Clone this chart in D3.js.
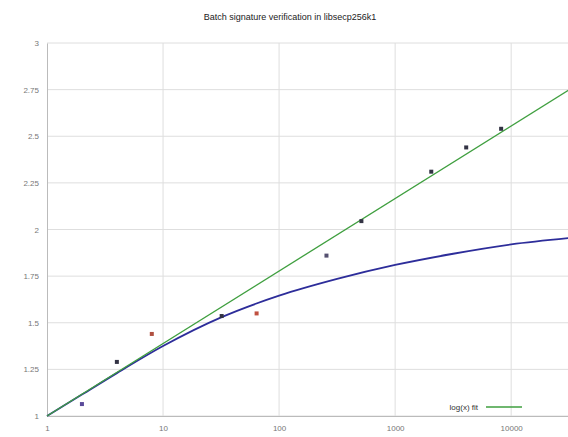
<!DOCTYPE html>
<html>
<head>
<meta charset="utf-8">
<script src="https://cdn.jsdelivr.net/npm/d3@7"></script>
<style>
  body { margin: 0; background: #fff; }
  text { font-family: "Liberation Sans", "DejaVu Sans", sans-serif; }
</style>
</head>
<body>
<svg id="chart" width="568" height="437"></svg>
<script>
// batch sizes and measured speedups
var sizes = [2, 4, 8, 32, 64, 256, 512, 2048, 4096, 8192];
var speedups = [1.064, 1.29, 1.44, 1.536, 1.55, 1.86, 2.045, 2.31, 2.44, 2.54];
var pointColors = ["#5a4a9a", "#333344", "#b05040", "#333344", "#c05040", "#555070", "#333344", "#333344", "#333344", "#333344"];

// blue curve
var curveX = [1, 2, 4, 10, 32, 100, 316, 1000, 3162, 10000, 32768];
var curveY = [1, 1.115, 1.23, 1.375, 1.53, 1.645, 1.735, 1.81, 1.87, 1.92, 1.955];

// log(x) fit, straight on the log axis
var fitX = [1, 32768];
var fitY = [1, 2.755];

var xTicks = [1, 10, 100, 1000, 10000];
var yTicks = [1, 1.25, 1.5, 1.75, 2, 2.25, 2.5, 2.75, 3];

var svg = d3.select("#chart");

var x = d3.scaleLog().domain([1, 32768]).range([47, 571]);
var y = d3.scaleLinear().domain([1, 3]).range([416, 43]);

// title
svg.append("text")
  .attr("x", 290).attr("y", 20)
  .attr("text-anchor", "middle")
  .attr("font-size", 9)
  .attr("fill", "#222")
  .text("Batch signature verification in libsecp256k1");

// grid
svg.append("g").selectAll("line").data(yTicks).enter().append("line")
  .attr("x1", 47).attr("x2", 568)
  .attr("y1", function(d) { return y(d); })
  .attr("y2", function(d) { return y(d); })
  .attr("stroke", "#dedede");

svg.append("g").selectAll("line").data(xTicks.slice(1)).enter().append("line")
  .attr("x1", function(d) { return x(d); })
  .attr("x2", function(d) { return x(d); })
  .attr("y1", 43).attr("y2", 416)
  .attr("stroke", "#dedede");

// axes
var xAxis = svg.append("g")
  .attr("transform", "translate(0,416)")
  .call(d3.axisBottom(x).tickValues(xTicks).tickSize(0).tickPadding(9).tickFormat(d3.format("d")));
var yAxis = svg.append("g")
  .attr("transform", "translate(47,0)")
  .call(d3.axisLeft(y).tickValues(yTicks).tickSize(0).tickPadding(8).tickFormat(function(d) { return String(d); }));

[xAxis, yAxis].forEach(function(g) {
  g.select(".domain").attr("stroke", "#bbb");
  g.selectAll("text").attr("font-size", 8).attr("fill", "#777");
});

// lines
var line = d3.line()
  .x(function(d) { return x(d[0]); })
  .y(function(d) { return y(d[1]); });

svg.append("path")
  .datum(d3.zip(curveX, curveY))
  .attr("fill", "none")
  .attr("stroke", "#2d2d9a")
  .attr("stroke-width", 1.8)
  .attr("d", line.curve(d3.curveMonotoneX));

svg.append("path")
  .datum(d3.zip(fitX, fitY))
  .attr("fill", "none")
  .attr("stroke", "#3f9f3f")
  .attr("stroke-width", 1.3)
  .attr("d", line.curve(d3.curveLinear));

// measured points
svg.append("g").selectAll("rect").data(d3.zip(sizes, speedups, pointColors)).enter().append("rect")
  .attr("x", function(d) { return x(d[0]) - 2; })
  .attr("y", function(d) { return y(d[1]) - 2; })
  .attr("width", 4).attr("height", 4)
  .attr("fill", function(d) { return d[2]; });

// legend
svg.append("text")
  .attr("x", 478).attr("y", 410)
  .attr("text-anchor", "end")
  .attr("font-size", 8)
  .attr("fill", "#333")
  .text("log(x) fit");
svg.append("line")
  .attr("x1", 486).attr("x2", 522)
  .attr("y1", 407).attr("y2", 407)
  .attr("stroke", "#3f9f3f")
  .attr("stroke-width", 1.3);
</script>
</body>
</html>
